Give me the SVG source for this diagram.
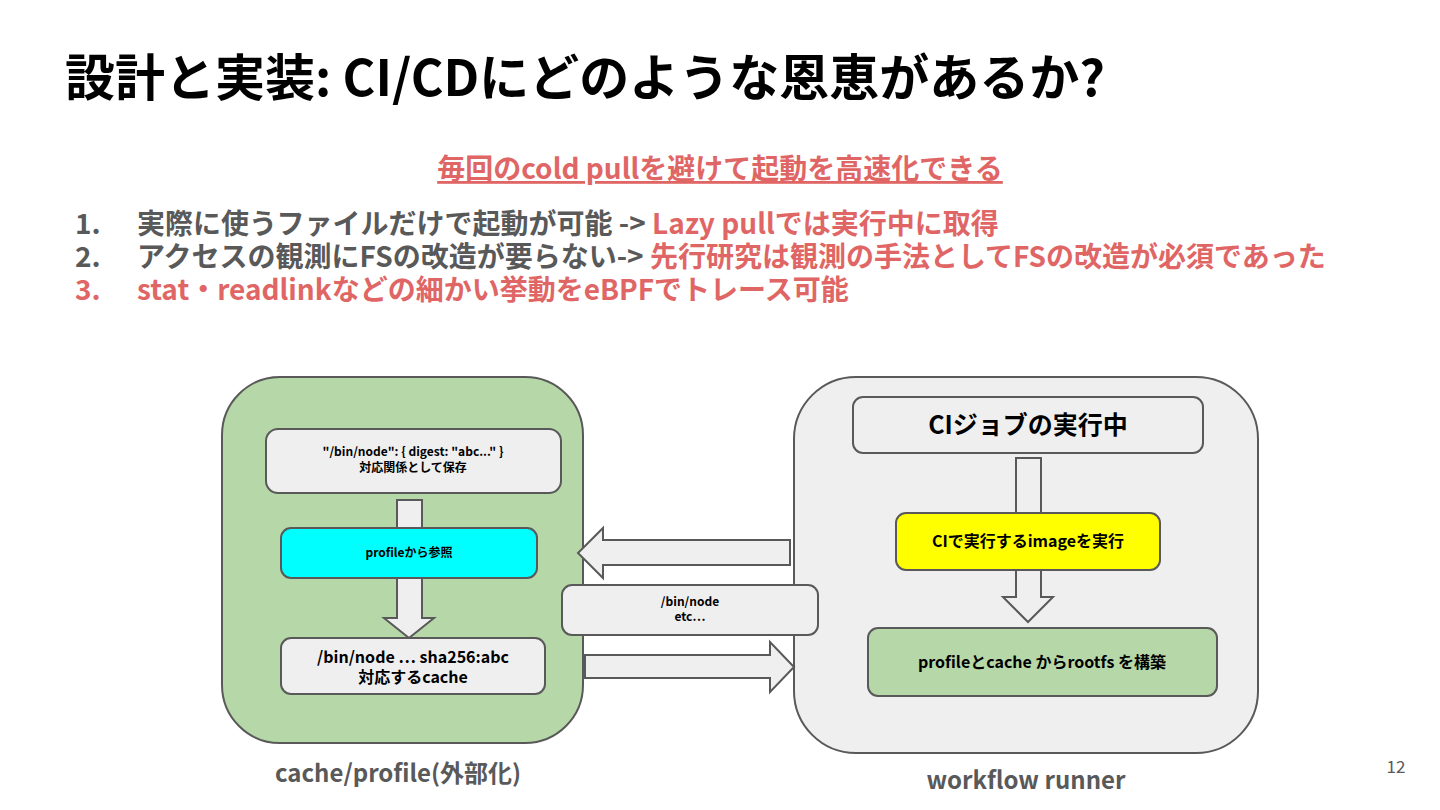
<svg xmlns="http://www.w3.org/2000/svg" width="1440" height="810" viewBox="0 0 1440 810">
<style>
text{font-family:"Noto Sans CJK JP","Noto Sans",sans-serif;font-weight:bold}
.title{font-size:50px;fill:#000}
.red{fill:#e06666}
.gray{fill:#595959}
.li{font-size:28px}
.box{stroke:#595959;stroke-width:2}
.arr{fill:#efefef;stroke:#595959;stroke-width:2;stroke-linejoin:miter}
.t{fill:#000;text-anchor:middle}
</style>
<rect width="1440" height="810" fill="#fff"/>
<text class="title" x="65" y="96">設計と実装: CI/CDにどのような恩恵があるか?</text>
<text class="red" x="720" y="179" font-size="28" text-anchor="middle" text-decoration="underline">毎回のcold pullを避けて起動を高速化できる</text>
<g class="li">
<text class="gray" x="75" y="234">1.</text>
<text x="137" y="234"><tspan class="gray">実際に使うファイルだけで起動が可能 -&gt; </tspan><tspan class="red">Lazy pullでは実行中に取得</tspan></text>
<text class="gray" x="75" y="267">2.</text>
<text x="137" y="267"><tspan class="gray">アクセスの観測にFSの改造が要らない-&gt; </tspan><tspan class="red">先行研究は観測の手法としてFSの改造が必須であった</tspan></text>
<text class="red" x="75" y="300">3.</text>
<text class="red" x="137" y="300">stat・readlinkなどの細かい挙動をeBPFでトレース可能</text>
</g>

<g id="cache-container">
<rect class="box" x="222" y="377" width="361" height="366" rx="58" fill="#b6d7a8"/>
<text class="gray" x="398" y="782" font-size="24" text-anchor="middle">cache/profile(外部化)</text>
</g>
<g id="runner-container">
<rect class="box" x="794" y="377" width="464" height="376" rx="62" fill="#efefef"/>
<text class="gray" x="1026" y="789" font-size="24" text-anchor="middle">workflow runner</text>
</g>

<g id="connectors">
<polygon class="arr" points="397,500 422,500 422,618 434,618 409,638 384,618 397,618"/>
<polygon class="arr" points="1016,458 1041,458 1041,597 1053,597 1028,622 1003,597 1016,597"/>
<polygon class="arr" points="790,540 603,540 603,528 578,553 603,578 603,565 790,565"/>
<polygon class="arr" points="585,655 770,655 770,642 794,667 770,692 770,678 585,678"/>
</g>

<g id="mapping">
<rect class="box" x="266" y="429" width="295" height="64" rx="12" fill="#efefef"/>
<text class="t" x="413" y="456" font-size="12">"/bin/node": { digest: "abc..." }</text>
<text class="t" x="413" y="472" font-size="12">対応関係として保存</text>
</g>
<g id="profile-ref">
<rect class="box" x="281" y="528" width="256" height="50" rx="10" fill="#00ffff"/>
<text class="t" x="409" y="557" font-size="12">profileから参照</text>
</g>
<g id="cache">
<rect class="box" x="281" y="638" width="264" height="56" rx="10" fill="#efefef"/>
<text class="t" x="413" y="663" font-size="16">/bin/node … sha256:abc</text>
<text class="t" x="413" y="683" font-size="16">対応するcache</text>
</g>
<g id="paths">
<rect class="box" x="562" y="585" width="256" height="50" rx="10" fill="#efefef"/>
<text class="t" x="690" y="606" font-size="12">/bin/node</text>
<text class="t" x="690" y="621" font-size="12">etc…</text>
</g>
<g id="ci-job">
<rect class="box" x="853" y="397" width="350" height="56" rx="10" fill="#efefef"/>
<text class="t" x="1028" y="434" font-size="25">CIジョブの実行中</text>
</g>
<g id="run-image">
<rect class="box" x="896" y="513" width="264" height="57" rx="10" fill="#ffff00"/>
<text class="t" x="1028" y="547" font-size="16">CIで実行するimageを実行</text>
</g>
<g id="build-rootfs">
<rect class="box" x="868" y="628" width="349" height="68" rx="10" fill="#b6d7a8"/>
<text class="t" x="1042" y="668" font-size="16">profileとcache からrootfs を構築</text>
</g>
<text x="1396" y="773" font-size="17" font-family="Liberation Sans, sans-serif" style="font-weight:normal" fill="#595959" text-anchor="middle">12</text>
</svg>
